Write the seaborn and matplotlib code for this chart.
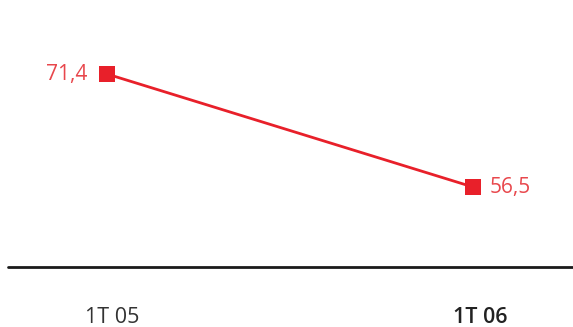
import matplotlib
matplotlib.use("Agg")
import matplotlib.pyplot as plt
import seaborn as sns
import pandas as pd

# Dados
periodos = ["1T 05", "1T 06"]
valores = [71.4, 56.5]
rotulos = ["71,4", "56,5"]

sns.set_style("white")
plt.rcParams["font.family"] = ["Open Sans", "DejaVu Sans"]

df = pd.DataFrame({"x": [0, 1], "valor": valores})

fig = plt.figure(figsize=(5.73, 3.27), dpi=100)
ax = fig.add_axes([0, 0, 1, 1])

vermelho = "#e8202a"
sns.lineplot(data=df, x="x", y="valor", ax=ax, color=vermelho, lw=2,
             marker="s", markersize=11.5, markeredgewidth=0, legend=False)

ax.set_xlim(-0.2923, 1.2732)
ax.set_ylim(38.04, 81.16)

# Rótulos dos valores
ax.annotate(rotulos[0], (0, valores[0]), xytext=(-14, 0), textcoords="offset points",
            ha="right", va="center", color="#e8474c", fontsize=15)
ax.annotate(rotulos[1], (1, valores[1]), xytext=(12, 0), textcoords="offset points",
            ha="left", va="center", color="#e8474c", fontsize=15)

# Linha de base
ax.axhline(45.95, xmin=8 / 573, xmax=1, color="#1a1a1a", lw=2)

# Rótulos do eixo x
ax.text(0.013, 39.25, periodos[0], ha="center", va="center", fontsize=15.5, color="#333333")
ax.text(1.02, 39.25, periodos[1], ha="center", va="center", fontsize=15.5,
        fontweight="semibold", color="#222222")

ax.axis("off")
fig.savefig("out.png", dpi=100)
